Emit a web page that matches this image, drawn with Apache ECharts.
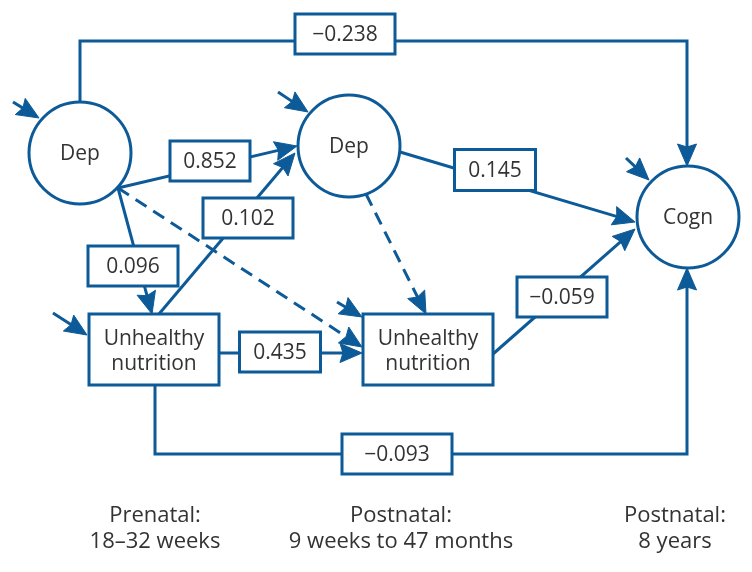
<!DOCTYPE html>
<html><head><meta charset="utf-8">
<script src="https://cdn.jsdelivr.net/npm/echarts@6/dist/echarts.min.js"></script>
<style>html,body{margin:0;padding:0;background:#fff}#chart{width:752px;height:572px}</style>
</head><body><div id="chart"></div>
<script>
// ---------------- data ----------------
const nodeLabels = ['Dep', 'Dep', 'Cogn', 'Unhealthy\nnutrition', 'Unhealthy\nnutrition'];
// paths: from node -> to node; coefficient null = non-significant (dashed, unlabelled)
const pathFrom = [0, 0, 3, 0, 1, 3, 4, 3, 0, 1];
const pathTo   = [2, 1, 1, 3, 2, 4, 2, 2, 4, 4];
const pathCoefficients = [-0.238, 0.852, 0.102, 0.096, 0.145, 0.435, -0.059, -0.093, null, null];
const periodLabels = ['Prenatal:\n18–32 weeks', 'Postnatal:\n9 weeks to 47 months', 'Postnatal:\n8 years'];

// ---------------- layout & style ----------------
const BLUE = '#0d5a98';
const TEXT = '#333333';
const FONT_FAMILY = '"Open Sans", "Noto Sans", sans-serif';
const LW = 3;
const nodeShapes = [
  { kind: 'circle', cx: 80, cy: 153, r: 51 },
  { kind: 'circle', cx: 349, cy: 146, r: 51 },
  { kind: 'circle', cx: 688, cy: 217, r: 51 },
  { kind: 'rect', x: 89, y: 314, w: 130, h: 71 },
  { kind: 'rect', x: 363, y: 314, w: 130, h: 71 }
];
const pathRoutes = [
  [[80, 102], [80, 41], [687, 41], [687, 166]],
  [[118, 188], [297, 146]],
  [[159, 314], [295, 153]],
  [[118, 188], [152, 314]],
  [[400, 152], [635, 222]],
  [[219, 353], [362, 353]],
  [[493, 354], [635, 229]],
  [[155, 385], [155, 454], [687, 454], [687, 268]],
  [[118, 188], [362, 347]],
  [[366, 194], [426, 314]]
];
const coefBoxes = [ // cx, cy, w, h
  [345, 34, 100, 40],
  [210, 161, 80, 40],
  [248, 218, 90, 40],
  [133, 266, 90, 40],
  [495, 170, 81, 41],
  [280, 352, 81, 40],
  [562, 297, 90, 40],
  [397, 454, 110, 40]
];
const errorArrows = [
  [[13, 102], [39, 118]],
  [[278, 92], [308, 112]],
  [[626, 158], [649, 180]],
  [[53, 313], [87, 335]],
  [[337, 302], [362, 317]]
];
const periodPos = [[155, 529], [401, 529], [675, 529]];

function fmt(v) {
  return v < 0 ? '\u2212' + Math.abs(v).toFixed(3) : v.toFixed(3);
}

function arrowShapes(pts, dashed) {
  const n = pts.length;
  const P = pts[n - 1], Q = pts[n - 2];
  let dx = P[0] - Q[0], dy = P[1] - Q[1];
  const len = Math.sqrt(dx * dx + dy * dy);
  dx /= len; dy /= len;
  const L = 22, W = 9.5;
  const bx = P[0] - dx * L, by = P[1] - dy * L;
  const nx = -dy, ny = dx;
  const head = [
    P,
    [bx + nx * W, by + ny * W],
    [bx + dx * 3, by + dy * 3],
    [bx - nx * W, by - ny * W]
  ];
  const linePts = pts.slice(0, n - 1).concat([[bx + dx * 6, by + dy * 6]]);
  return [
    { type: 'polyline', shape: { points: linePts },
      style: { stroke: BLUE, lineWidth: LW, fill: null, lineDash: dashed ? [13, 8] : null } },
    { type: 'polygon', shape: { points: head }, style: { fill: BLUE, stroke: BLUE, lineWidth: 1 } }
  ];
}

const chart = echarts.init(document.getElementById('chart'), null, { renderer: 'canvas' });
const option = {
  backgroundColor: '#ffffff',
  animation: false,
  grid: { left: 0, right: 0, top: 0, bottom: 0, containLabel: false },
  xAxis: { type: 'value', min: 0, max: 752, show: false },
  yAxis: { type: 'value', min: 0, max: 572, inverse: true, show: false },
  series: [
    { // paths
      type: 'custom', coordinateSystem: 'cartesian2d', clip: false, z: 1,
      data: pathFrom.map((f, i) => [f, pathTo[i], pathCoefficients[i]]),
      renderItem: function (params, api) {
        const pts = pathRoutes[params.dataIndex].map(p => api.coord(p));
        const dashed = pathCoefficients[params.dataIndex] === null;
        return { type: 'group', children: arrowShapes(pts, dashed) };
      }
    },
    { // error terms
      type: 'custom', coordinateSystem: 'cartesian2d', clip: false, z: 1,
      data: nodeLabels.map((l, i) => [i]),
      renderItem: function (params, api) {
        const pts = errorArrows[params.dataIndex].map(p => api.coord(p));
        return { type: 'group', children: arrowShapes(pts, false) };
      }
    },
    { // nodes
      type: 'custom', coordinateSystem: 'cartesian2d', clip: false, z: 3,
      data: nodeLabels.map((l, i) => [i]),
      renderItem: function (params, api) {
        const s = nodeShapes[params.dataIndex];
        const label = nodeLabels[params.dataIndex];
        let shape, c;
        if (s.kind === 'circle') {
          c = api.coord([s.cx, s.cy]);
          const e = api.coord([s.cx + s.r, s.cy]);
          shape = { type: 'circle', shape: { cx: c[0], cy: c[1], r: e[0] - c[0] },
            style: { fill: '#fff', stroke: BLUE, lineWidth: LW } };
        } else {
          const a = api.coord([s.x, s.y]);
          const b = api.coord([s.x + s.w, s.y + s.h]);
          c = [(a[0] + b[0]) / 2, (a[1] + b[1]) / 2 + 1.5];
          shape = { type: 'rect', shape: { x: a[0], y: a[1], width: b[0] - a[0], height: b[1] - a[1] },
            style: { fill: '#fff', stroke: BLUE, lineWidth: LW } };
        }
        return { type: 'group', children: [shape, {
          type: 'text', style: { text: label, x: c[0], y: c[1] + 1, align: 'center', verticalAlign: 'middle',
            fontFamily: FONT_FAMILY, fontSize: 21, lineHeight: 25, fill: TEXT }
        }] };
      }
    },
    { // coefficient boxes
      type: 'custom', coordinateSystem: 'cartesian2d', clip: false, z: 4,
      data: pathCoefficients.filter(v => v !== null).map((v, i) => [i, v]),
      renderItem: function (params, api) {
        const bx = coefBoxes[params.dataIndex];
        const v = api.value(1);
        const a = api.coord([bx[0] - bx[2] / 2, bx[1] - bx[3] / 2]);
        const b = api.coord([bx[0] + bx[2] / 2, bx[1] + bx[3] / 2]);
        return { type: 'group', children: [
          { type: 'rect', shape: { x: a[0], y: a[1], width: b[0] - a[0], height: b[1] - a[1] },
            style: { fill: '#fff', stroke: BLUE, lineWidth: LW } },
          { type: 'text', style: { text: fmt(v), x: (a[0] + b[0]) / 2, y: (a[1] + b[1]) / 2 + 1,
            align: 'center', verticalAlign: 'middle', fontFamily: FONT_FAMILY, fontSize: 21, fill: TEXT } }
        ] };
      }
    },
    { // period labels
      type: 'custom', coordinateSystem: 'cartesian2d', clip: false, z: 5,
      data: periodLabels.map((l, i) => [i]),
      renderItem: function (params, api) {
        const p = api.coord(periodPos[params.dataIndex]);
        return { type: 'text', style: { text: periodLabels[params.dataIndex], x: p[0], y: p[1],
          align: 'center', verticalAlign: 'middle', fontFamily: FONT_FAMILY, fontSize: 22, lineHeight: 26, fill: TEXT } };
      }
    }
  ]
};
chart.setOption(option);
</script></body></html>
